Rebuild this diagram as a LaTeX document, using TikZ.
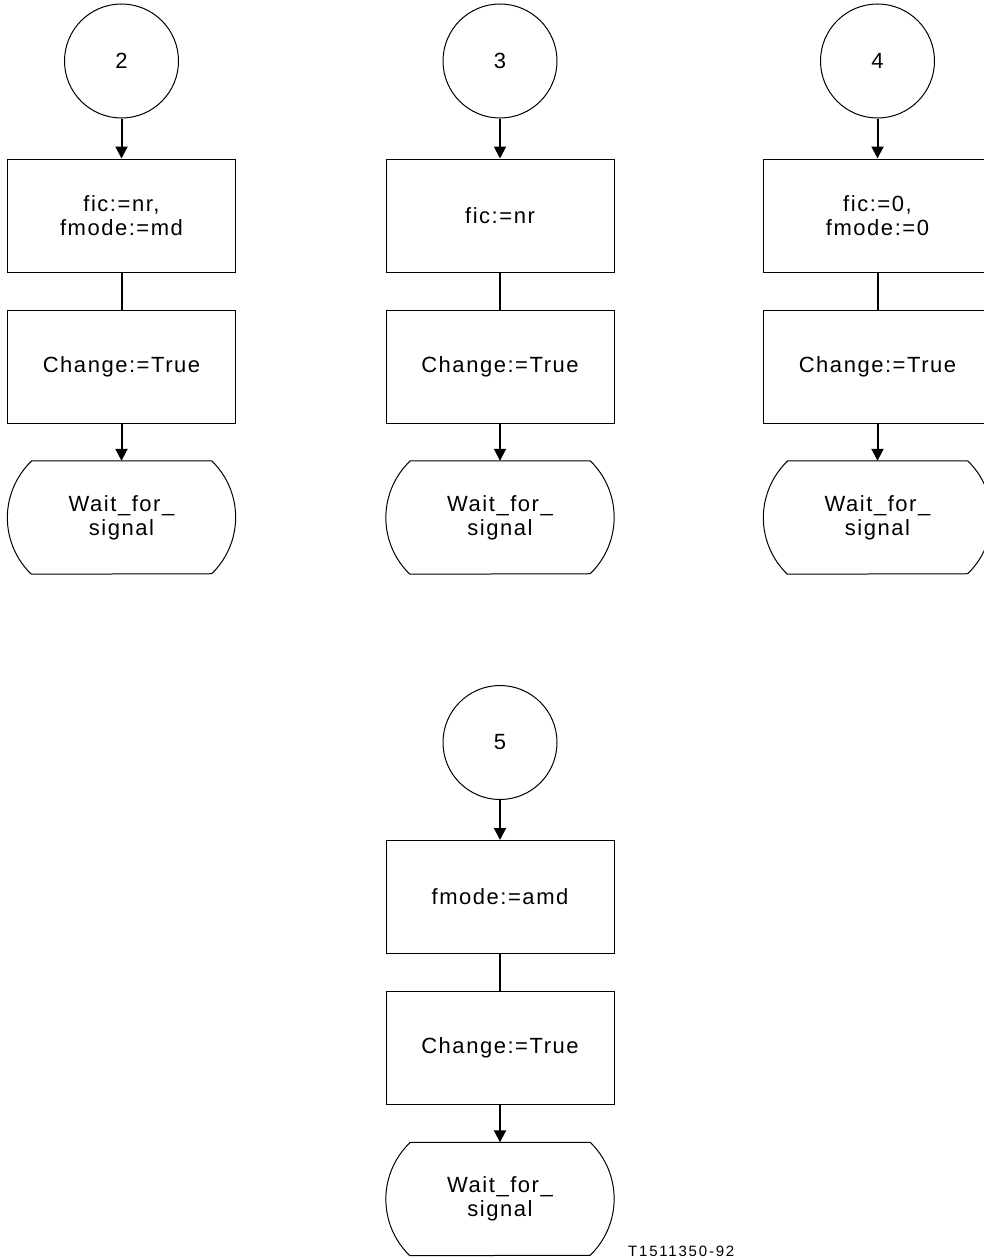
\documentclass[tikz,border=0pt]{standalone}
\usepackage{fontspec}
\setmainfont{Liberation Sans}[LetterSpace=7,Ligatures=NoCommon]
\usetikzlibrary{arrows.meta}
\tikzset{
  connector/.style={circle, draw, line width=1pt, minimum size=114pt, inner sep=0pt},
  taskbox/.style={rectangle, draw, line width=1pt, minimum width=228pt, minimum height=113pt, inner sep=0pt, align=center},
  waitbox/.style={rectangle, minimum width=228pt, minimum height=113pt, inner sep=0pt, align=center},
  flow/.style={line width=2pt, -{Triangle[length=12pt,width=12pt]}},
  link/.style={line width=2pt}
}
\newcommand{\waitoutline}[1]{%
  \draw[line width=1pt] ([xshift=24pt]#1.north west) -- ([xshift=-24pt]#1.north east)
    arc[start angle=46, end angle=-46, radius=78.5pt]
    -- ([xshift=24pt]#1.south west)
    arc[start angle=226, end angle=134, radius=78.5pt] -- cycle;}

\begin{document}
\begin{tikzpicture}[x=1pt, y=-1pt, font=\fontsize{22}{24}\selectfont]
  \clip (0,0) rectangle (984,1258);

  % branch 2
  \node[connector] (c2) at (121.5, 61) {2};
  \node[taskbox] (set2) at (121.5, 215.5) {fic:=nr,\\fmode:=md};
  \node[taskbox] (chg2) at (121.5, 366.5) {Change:=True};
  \node[waitbox] (wait2) at (121.5, 517.5) {Wait\_for\_\\signal};
  \waitoutline{wait2}
  \draw[flow] (c2) -- (set2);
  \draw[link] (set2) -- (chg2);
  \draw[flow] (chg2) -- (wait2);

  % branch 3
  \node[connector] (c3) at (500, 61) {3};
  \node[taskbox] (set3) at (500, 215.5) {fic:=nr};
  \node[taskbox] (chg3) at (500, 366.5) {Change:=True};
  \node[waitbox] (wait3) at (500, 517.5) {Wait\_for\_\\signal};
  \waitoutline{wait3}
  \draw[flow] (c3) -- (set3);
  \draw[link] (set3) -- (chg3);
  \draw[flow] (chg3) -- (wait3);

  % branch 4
  \node[connector] (c4) at (877.5, 61) {4};
  \node[taskbox] (set4) at (877.5, 215.5) {fic:=0,\\fmode:=0};
  \node[taskbox] (chg4) at (877.5, 366.5) {Change:=True};
  \node[waitbox] (wait4) at (877.5, 517.5) {Wait\_for\_\\signal};
  \waitoutline{wait4}
  \draw[flow] (c4) -- (set4);
  \draw[link] (set4) -- (chg4);
  \draw[flow] (chg4) -- (wait4);

  % branch 5
  \node[connector] (c5) at (500, 742.5) {5};
  \node[taskbox] (set5) at (500, 897) {fmode:=amd};
  \node[taskbox] (chg5) at (500, 1048) {Change:=True};
  \node[waitbox] (wait5) at (500, 1199) {Wait\_for\_\\signal};
  \waitoutline{wait5}
  \draw[flow] (c5) -- (set5);
  \draw[link] (set5) -- (chg5);
  \draw[flow] (chg5) -- (wait5);

  \node[anchor=base west, inner sep=0pt, font=\fontsize{15}{18}\selectfont\addfontfeature{LetterSpace=12}] (figno) at (628, 1256.5) {T1511350-92};
\end{tikzpicture}
\end{document}
